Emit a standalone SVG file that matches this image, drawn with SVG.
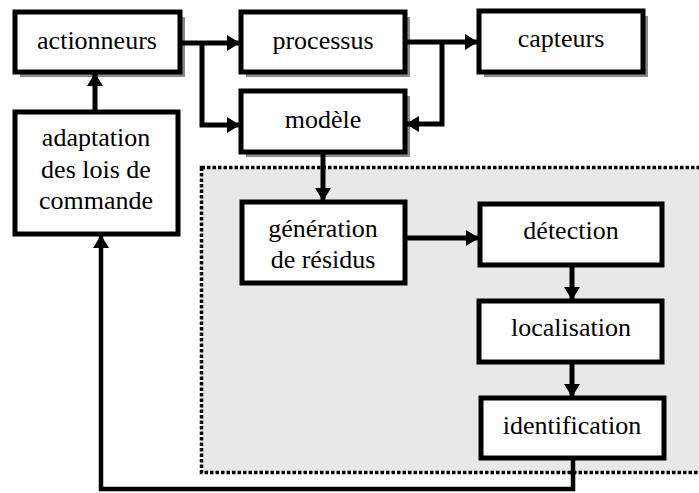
<svg xmlns="http://www.w3.org/2000/svg" width="699" height="493" viewBox="0 0 699 493">
<style>
.box{fill:#fff;stroke:#000;stroke-width:5}
.sh{fill:#8a8a8a}
.c{fill:none;stroke:#000;stroke-width:5}
.u{font-family:"Liberation Serif","Times New Roman",serif;font-size:26px;text-anchor:middle;fill:#000}
</style>
<defs>
<marker id="ah" markerUnits="userSpaceOnUse" markerWidth="14" markerHeight="16" refX="13" refY="8" orient="auto">
<path d="M0,0 L13,8 L0,16 Z" fill="#000"/>
</marker>
</defs>
<rect x="0" y="0" width="699" height="493" fill="#fff"/>
<g id="zone">
<rect x="201.5" y="167.5" width="530" height="305" fill="#e8e8e8" stroke="#000" stroke-width="3.5" stroke-dasharray="3.5 2"/>
</g>
<g id="actionneurs">
<rect class="sh" x="20" y="17" width="165" height="60"/>
<rect class="box" x="15" y="12" width="165" height="60"/>
<text class="u" x="97" y="49">actionneurs</text>
</g>
<g id="processus">
<rect class="sh" x="246" y="17" width="164" height="60"/>
<rect class="box" x="241" y="12" width="164" height="60"/>
<text class="u" x="323" y="49">processus</text>
</g>
<g id="capteurs">
<rect class="sh" x="484" y="16" width="164" height="61"/>
<rect class="box" x="479" y="11" width="164" height="61"/>
<text class="u" x="561" y="47">capteurs</text>
</g>
<g id="modele">
<rect class="sh" x="246" y="96" width="164" height="61"/>
<rect class="box" x="241" y="91" width="164" height="61"/>
<text class="u" x="323" y="128">modèle</text>
</g>
<g id="adaptation">
<rect class="box" x="15" y="112" width="163" height="122"/>
<text class="u" x="96" y="146">adaptation</text>
<text class="u" x="96" y="178">des lois de</text>
<text class="u" x="96" y="209">commande</text>
</g>
<g id="generation">
<rect class="box" x="242" y="202" width="163" height="81"/>
<text class="u" x="323" y="237">génération</text>
<text class="u" x="323" y="268">de résidus</text>
</g>
<g id="detection">
<rect class="box" x="480" y="204" width="182" height="61"/>
<text class="u" x="571" y="239">détection</text>
</g>
<g id="localisation">
<rect class="box" x="479" y="301" width="183" height="61"/>
<text class="u" x="571" y="336">localisation</text>
</g>
<g id="identification">
<rect class="box" x="481" y="398" width="183" height="60"/>
<text class="u" x="572" y="434">identification</text>
</g>
<g id="connectors">
<path class="c" d="M180,43 L240,43" marker-end="url(#ah)"/>
<path class="c" d="M202,43 L202,125 L240,125" marker-end="url(#ah)"/>
<path class="c" d="M405,42 L478,42" marker-end="url(#ah)"/>
<path class="c" d="M442,42 L442,124 L406,124" marker-end="url(#ah)"/>
<path class="c" d="M95,112 L95,73" marker-end="url(#ah)"/>
<path class="c" d="M323,152 L323,201" marker-end="url(#ah)"/>
<path class="c" d="M405,238 L479,238" marker-end="url(#ah)"/>
<path class="c" d="M572,265 L572,300" marker-end="url(#ah)"/>
<path class="c" d="M572,362 L572,397" marker-end="url(#ah)"/>
<path class="c" d="M573,458 L573,489 L101,489 L101,235" marker-end="url(#ah)" style="stroke-width:4.5"/>
</g>
</svg>
